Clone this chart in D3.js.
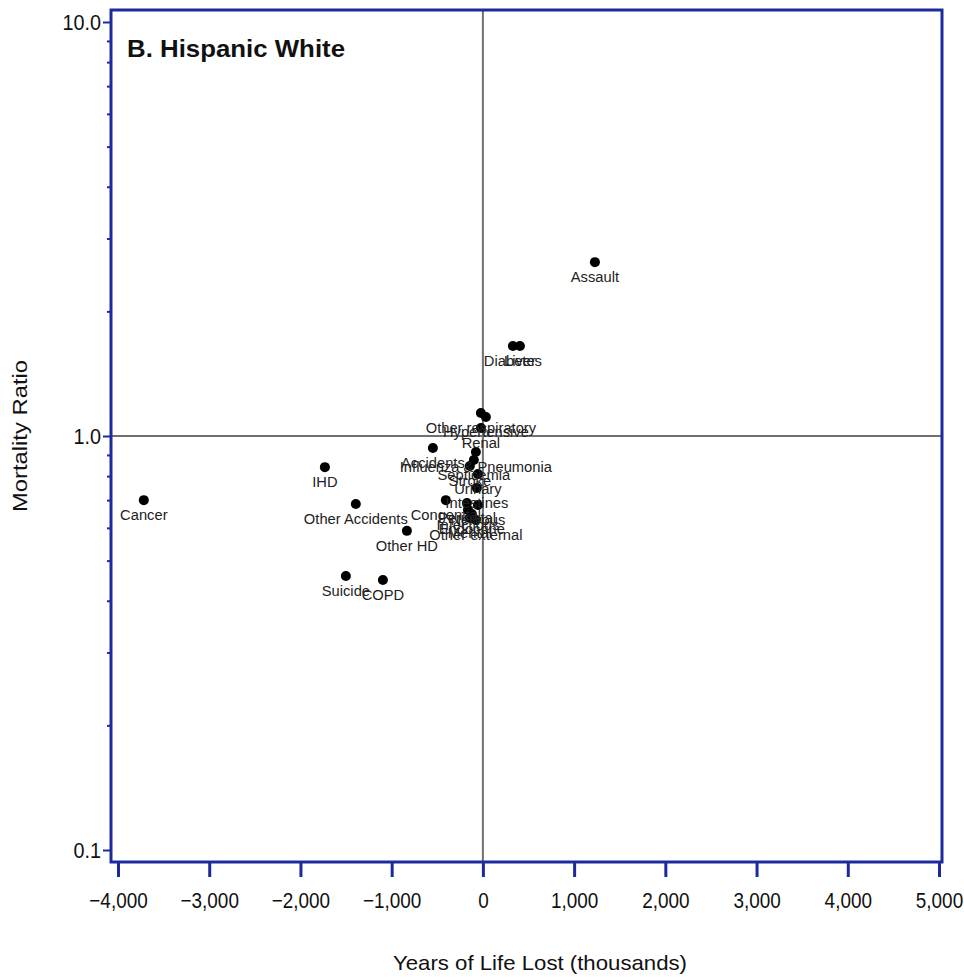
<!DOCTYPE html>
<html>
<head>
<meta charset="utf-8">
<script src="https://cdn.jsdelivr.net/npm/d3@7"></script>
<style>
  html, body { margin: 0; padding: 0; background: #fff; }
  svg { display: block; font-family: "Liberation Sans", Arial, sans-serif; }
</style>
</head>
<body>
<svg id="chart" width="964" height="979"></svg>
<script>
// ---- Data ----
const causes = [
  "Assault", "Diabetes", "Liver", "Cancer", "IHD", "Other Accidents", "Other HD",
  "Suicide", "COPD", "Other respiratory", "Hypertensive", "Renal", "Accidents",
  "Influenza & Pneumonia", "Septicemia", "Stroke", "Urinary", "Intestines",
  "Congenital", "Perinatal", "Nervous", "Infectious", "Endocrine", "Mental", "Other external"
];
const yearsLost = [
  1228, 329, 406, -3717, -1732, -1393, -833,
  -1502, -1096, -22, 33, -22, -548,
  -77, -99, -143, -55, -66,
  -406, -175, -55, -164, -121, -143, -77
];
const mortalityRatio = [
  2.63, 1.65, 1.65, 0.700, 0.841, 0.685, 0.590,
  0.459, 0.449, 1.137, 1.111, 1.045, 0.935,
  0.915, 0.875, 0.846, 0.809, 0.749,
  0.700, 0.689, 0.681, 0.663, 0.648, 0.634, 0.627
];
const xTicks = [-4000, -3000, -2000, -1000, 0, 1000, 2000, 3000, 4000, 5000];
const yTicks = [0.1, 1, 10];
const yMinorTicks = [0.2,0.3,0.4,0.5,0.6,0.7,0.8,0.9,2,3,4,5,6,7,8,9];
const titleText = "B. Hispanic White";
const xTitle = "Years of Life Lost (thousands)";
const yTitle = "Mortality Ratio";

// ---- Layout ----
const frame = {left: 111, right: 942, top: 10, bottom: 862};
const blue = "#1d2a9e";
const svg = d3.select("#chart");

const x = d3.scaleLinear().domain([-4000, 5000]).range([118, 939]);
const y = d3.scaleLog().domain([0.1, 10]).range([850, 22]);

// reference lines
svg.append("line").attr("x1", x(0)).attr("x2", x(0))
  .attr("y1", frame.top).attr("y2", frame.bottom)
  .attr("stroke", "#707070").attr("stroke-width", 2);
svg.append("line").attr("x1", frame.left).attr("x2", frame.right)
  .attr("y1", y(1)).attr("y2", y(1))
  .attr("stroke", "#707070").attr("stroke-width", 2);

// points
const data = causes.map((c, i) => ({c, x: yearsLost[i], y: mortalityRatio[i]}));
svg.append("g").selectAll("circle").data(data).join("circle")
  .attr("cx", d => x(d.x)).attr("cy", d => y(d.y)).attr("r", 5)
  .attr("fill", "#000");
svg.append("g").selectAll("text").data(data).join("text")
  .attr("transform", d => `translate(${x(d.x)},${y(d.y) + 20}) scale(0.95,1)`)
  .attr("text-anchor", "middle")
  .attr("font-size", 15.5).attr("fill", "#222")
  .text(d => d.c);

// frame
svg.append("rect")
  .attr("x", frame.left).attr("y", frame.top)
  .attr("width", frame.right - frame.left).attr("height", frame.bottom - frame.top)
  .attr("fill", "none").attr("stroke", blue).attr("stroke-width", 3);

// x axis
const gx = svg.append("g").attr("transform", `translate(0,${frame.bottom})`)
  .call(d3.axisBottom(x).tickValues(xTicks).tickFormat(d3.format(",")).tickSize(15).tickPadding(15).tickSizeOuter(0));
gx.select(".domain").remove();
gx.selectAll(".tick line").attr("stroke", blue).attr("stroke-width", 3);
gx.selectAll(".tick text").attr("font-size", 22).attr("fill", "#111")
  .attr("transform", "scale(0.86,1)")
  .attr("font-family", "'Liberation Sans', Arial, sans-serif");

// y axis major
const gy = svg.append("g").attr("transform", `translate(${frame.left},0)`)
  .call(d3.axisLeft(y).tickValues(yTicks).tickFormat(d3.format(".1f")).tickSize(8).tickPadding(3).tickSizeOuter(0));
gy.select(".domain").remove();
gy.selectAll(".tick line").attr("stroke", blue).attr("stroke-width", 2);
gy.selectAll(".tick text").attr("font-size", 22).attr("fill", "#111")
  .attr("transform", "scale(0.9,1)")
  .attr("font-family", "'Liberation Sans', Arial, sans-serif");

// y axis minor
const gym = svg.append("g").attr("transform", `translate(${frame.left},0)`)
  .call(d3.axisLeft(y).tickValues(yMinorTicks).tickFormat("").tickSize(4).tickSizeOuter(0));
gym.select(".domain").remove();
gym.selectAll(".tick line").attr("stroke", blue).attr("stroke-width", 2);

// title
svg.append("text").attr("x", 127).attr("y", 57)
  .attr("font-size", 24).attr("font-weight", "bold").attr("fill", "#111")
  .attr("textLength", 218).attr("lengthAdjust", "spacingAndGlyphs")
  .text(titleText);

// axis titles
svg.append("text").attr("x", 540).attr("y", 970)
  .attr("text-anchor", "middle").attr("font-size", 21).attr("fill", "#111")
  .attr("textLength", 294).attr("lengthAdjust", "spacingAndGlyphs")
  .text(xTitle);
svg.append("text").attr("transform", "translate(27,436) rotate(-90)")
  .attr("text-anchor", "middle").attr("font-size", 21).attr("fill", "#111")
  .attr("textLength", 152).attr("lengthAdjust", "spacingAndGlyphs")
  .text(yTitle);
</script>
</body>
</html>
